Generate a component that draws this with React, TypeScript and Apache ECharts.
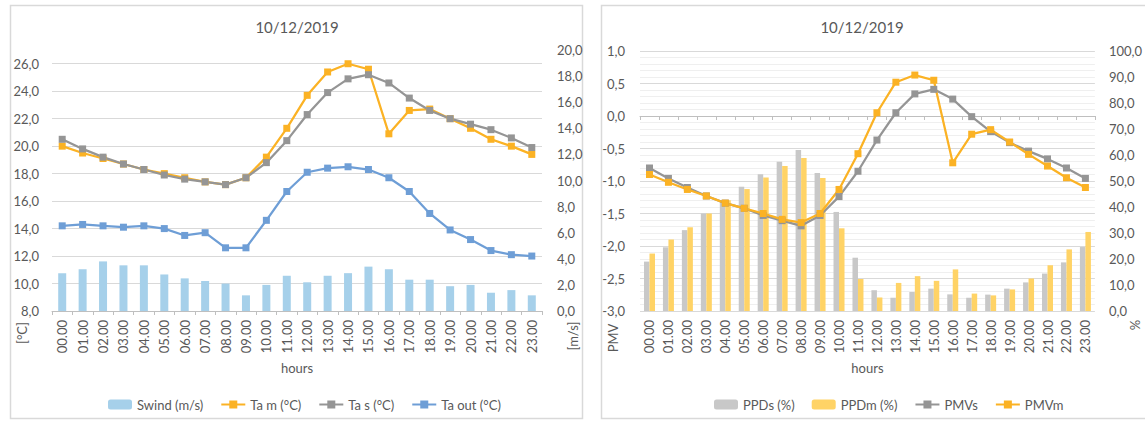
import React, { useEffect, useRef } from "react";
import * as echarts from "echarts";

const hours = [
  "00.00", "01.00", "02.00", "03.00", "04.00", "05.00", "06.00", "07.00",
  "08.00", "09.00", "10.00", "11.00", "12.00", "13.00", "14.00", "15.00",
  "16.00", "17.00", "18.00", "19.00", "20.00", "21.00", "22.00", "23.00",
];

const titleText = "10/12/2019";

// Left chart
const swind = [2.9, 3.2, 3.8, 3.5, 3.5, 2.8, 2.5, 2.3, 2.1, 1.2, 2.0, 2.7, 2.2, 2.7, 2.9, 3.4, 3.2, 2.4, 2.4, 1.9, 2.0, 1.4, 1.6, 1.2];
const taM = [20.0, 19.5, 19.1, 18.7, 18.3, 18.0, 17.7, 17.4, 17.2, 17.7, 19.2, 21.3, 23.7, 25.4, 26.0, 25.6, 20.9, 22.6, 22.7, 22.0, 21.3, 20.5, 20.0, 19.4];
const taS = [20.5, 19.8, 19.2, 18.7, 18.3, 17.9, 17.6, 17.4, 17.2, 17.7, 18.8, 20.4, 22.3, 23.9, 24.9, 25.2, 24.6, 23.5, 22.6, 22.0, 21.6, 21.2, 20.6, 19.9];
const taOut = [14.2, 14.3, 14.2, 14.1, 14.2, 14.0, 13.5, 13.7, 12.6, 12.6, 14.6, 16.7, 18.1, 18.4, 18.5, 18.3, 17.7, 16.7, 15.1, 13.9, 13.2, 12.4, 12.1, 12.0];
const leftTicksT = { min: 8, max: 27, interval: 2 };
const leftTicksW = { min: 0, max: 20, interval: 2 };

// Right chart
const ppdS = [19.0, 24.5, 31.1, 37.5, 42.6, 47.8, 52.6, 57.4, 61.9, 53.1, 38.1, 20.5, 8.0, 5.1, 7.3, 8.6, 6.4, 5.1, 6.3, 8.6, 11.0, 14.4, 18.7, 24.6];
const ppdM = [22.1, 27.5, 32.2, 37.5, 42.6, 46.9, 51.3, 55.8, 58.8, 51.2, 31.8, 12.3, 5.2, 10.8, 13.4, 11.6, 16.0, 6.7, 6.0, 8.3, 12.5, 17.6, 23.7, 30.4];
const pmvS = [-0.80, -0.96, -1.10, -1.23, -1.34, -1.42, -1.53, -1.61, -1.69, -1.53, -1.24, -0.85, -0.37, 0.05, 0.34, 0.41, 0.26, -0.01, -0.24, -0.41, -0.54, -0.66, -0.80, -0.96];
const pmvM = [-0.90, -1.02, -1.13, -1.23, -1.34, -1.42, -1.50, -1.59, -1.64, -1.50, -1.13, -0.58, 0.05, 0.52, 0.63, 0.55, -0.72, -0.28, -0.21, -0.40, -0.59, -0.77, -0.95, -1.10];
const rightTicksPMV = { min: -3, max: 1, interval: 0.5 };
const rightTicksPPD = { min: 0, max: 100, interval: 10 };

const FONT = "Lato, 'Open Sans', sans-serif";
const TXT = "#595959";
const GRID = "#D9D9D9";
const ORANGE = "#FBB224";
const GRAY = "#959595";
const BLUE = "#6E9ED6";
const SKY = "#A6D0EA";
const LGRAY = "#C8C8C8";
const YELLOW = "#FFD366";

const fmt = (v: number) => v.toFixed(1).replace(".", ",");

function xAxisCfg(gridIndex: number) {
  return {
    type: "category",
    gridIndex,
    data: hours,
    boundaryGap: true,
    name: "hours",
    nameLocation: "middle",
    nameGap: 48,
    nameTextStyle: { fontSize: 13, color: TXT, fontFamily: FONT },
    axisLine: { lineStyle: { color: "#BFBFBF", width: 1 } },
    axisTick: { show: true, length: 4, interval: 0, lineStyle: { color: "#BFBFBF" } },
    axisLabel: { interval: 0, rotate: 90, margin: 9, fontSize: 13, color: TXT, fontFamily: FONT },
    splitLine: { show: false },
  };
}

function lineSeries(name: string, data: number[], color: string, xAxisIndex: number, yAxisIndex: number) {
  return {
    name,
    type: "line",
    data,
    xAxisIndex,
    yAxisIndex,
    symbol: "rect",
    symbolSize: 7,
    showSymbol: true,
    lineStyle: { color, width: 2.25 },
    itemStyle: { color },
    z: 3,
  };
}

function barSeries(name: string, data: number[], color: string, xAxisIndex: number, yAxisIndex: number, width: number) {
  return {
    name,
    type: "bar",
    data,
    xAxisIndex,
    yAxisIndex,
    barWidth: width,
    barGap: "0%",
    itemStyle: { color },
    z: 2,
  };
}

function axisName(text: string, x: number, y: number) {
  return {
    type: "text",
    x,
    y,
    rotation: Math.PI / 2,
    style: {
      text,
      fontSize: 13,
      fontFamily: FONT,
      fill: TXT,
      textAlign: "center",
      textVerticalAlign: "middle",
      align: "center",
      verticalAlign: "middle",
    },
  };
}

function titleTextEl(x: number) {
  return {
    type: "text",
    x,
    y: 27,
    style: {
      text: titleText,
      fontSize: 15,
      fontFamily: FONT,
      fill: TXT,
      textAlign: "center",
      textVerticalAlign: "middle",
      align: "center",
      verticalAlign: "middle",
    },
  };
}

export default function App() {
  const ref = useRef<HTMLDivElement>(null);
  useEffect(() => {
    document.body.style.margin = "0";
    const chart = echarts.init(ref.current!, null, { renderer: "svg" });
    const option: any = {
      animation: false,
      backgroundColor: "#fff",
      textStyle: { fontFamily: FONT },
      grid: [
        { left: 52, top: 50, width: 490, height: 261, containLabel: false },
        { left: 640, top: 51, width: 458, height: 260, containLabel: false },
      ],
      xAxis: [xAxisCfg(0), xAxisCfg(1)],
      yAxis: [
        {
          type: "value",
          gridIndex: 0,
          position: "left",
          ...leftTicksT,
          axisLine: { show: false },
          axisTick: { show: false },
          axisLabel: { formatter: fmt, fontSize: 13, color: TXT, margin: 13, fontFamily: FONT, showMaxLabel: false },
          splitLine: { show: true, showMaxLine: false, lineStyle: { color: GRID, width: 1 } },
        },
        {
          type: "value",
          gridIndex: 0,
          position: "right",
          ...leftTicksW,
          axisLine: { show: false },
          axisTick: { show: false },
          axisLabel: { formatter: fmt, fontSize: 13, color: TXT, margin: 15, fontFamily: FONT },
          splitLine: { show: false },
        },
        {
          type: "value",
          gridIndex: 1,
          position: "left",
          ...rightTicksPMV,
          axisLine: { show: false },
          axisTick: { show: false },
          minorTick: { show: false, splitNumber: 5 },
          minorSplitLine: { show: true, lineStyle: { color: "#EFEFEF", width: 1 } },
          axisLabel: { formatter: fmt, fontSize: 13, color: TXT, margin: 15, fontFamily: FONT },
          splitLine: { show: true, lineStyle: { color: GRID, width: 1 } },
        },
        {
          type: "value",
          gridIndex: 1,
          position: "right",
          ...rightTicksPPD,
          axisLine: { show: false },
          axisTick: { show: false },
          axisLabel: { formatter: fmt, fontSize: 13, color: TXT, margin: 14, fontFamily: FONT },
          splitLine: { show: false },
        },
      ],
      legend: [
        {
          data: ["Swind (m/s)", "Ta m (°C)", "Ta s (°C)", "Ta out (°C)"],
          left: 103,
          top: 393,
          itemWidth: 24,
          itemHeight: 10,
          itemGap: 17,
          textStyle: { fontSize: 13, color: TXT, fontFamily: FONT },
        },
        {
          data: ["PPDs (%)", "PPDm (%)", "PMVs", "PMVm"],
          left: 709,
          top: 393,
          itemWidth: 24,
          itemHeight: 10,
          itemGap: 17,
          textStyle: { fontSize: 13, color: TXT, fontFamily: FONT },
        },
      ],
      series: [
        barSeries("Swind (m/s)", swind, SKY, 0, 1, 8),
        lineSeries("Ta m (°C)", taM, ORANGE, 0, 0),
        lineSeries("Ta s (°C)", taS, GRAY, 0, 0),
        lineSeries("Ta out (°C)", taOut, BLUE, 0, 0),
        barSeries("PPDs (%)", ppdS, LGRAY, 1, 3, 5.5),
        barSeries("PPDm (%)", ppdM, YELLOW, 1, 3, 5.5),
        lineSeries("PMVs", pmvS, GRAY, 1, 2),
        lineSeries("PMVm", pmvM, ORANGE, 1, 2),
      ],
      graphic: [
        {
          type: "rect",
          shape: { x: 10.5, y: 5.5, width: 572, height: 413 },
          style: { fill: "none", stroke: GRID, lineWidth: 1.5 },
          silent: true,
        },
        {
          type: "rect",
          shape: { x: 601.5, y: 5.5, width: 560, height: 413 },
          style: { fill: "none", stroke: GRID, lineWidth: 1.5 },
          silent: true,
        },
        titleTextEl(297),
        titleTextEl(862),
        axisName("[°C]", 22, 333),
        axisName("[m/s]", 573, 336),
        axisName("PMV", 613, 338),
        axisName("%", 1135, 325),
      ],
    };
    chart.setOption(option);
    return () => chart.dispose();
  }, []);
  return (
    <div
      ref={ref}
      style={{ position: "absolute", left: 0, top: 0, width: 1145, height: 421, background: "#fff" }}
    />
  );
}
